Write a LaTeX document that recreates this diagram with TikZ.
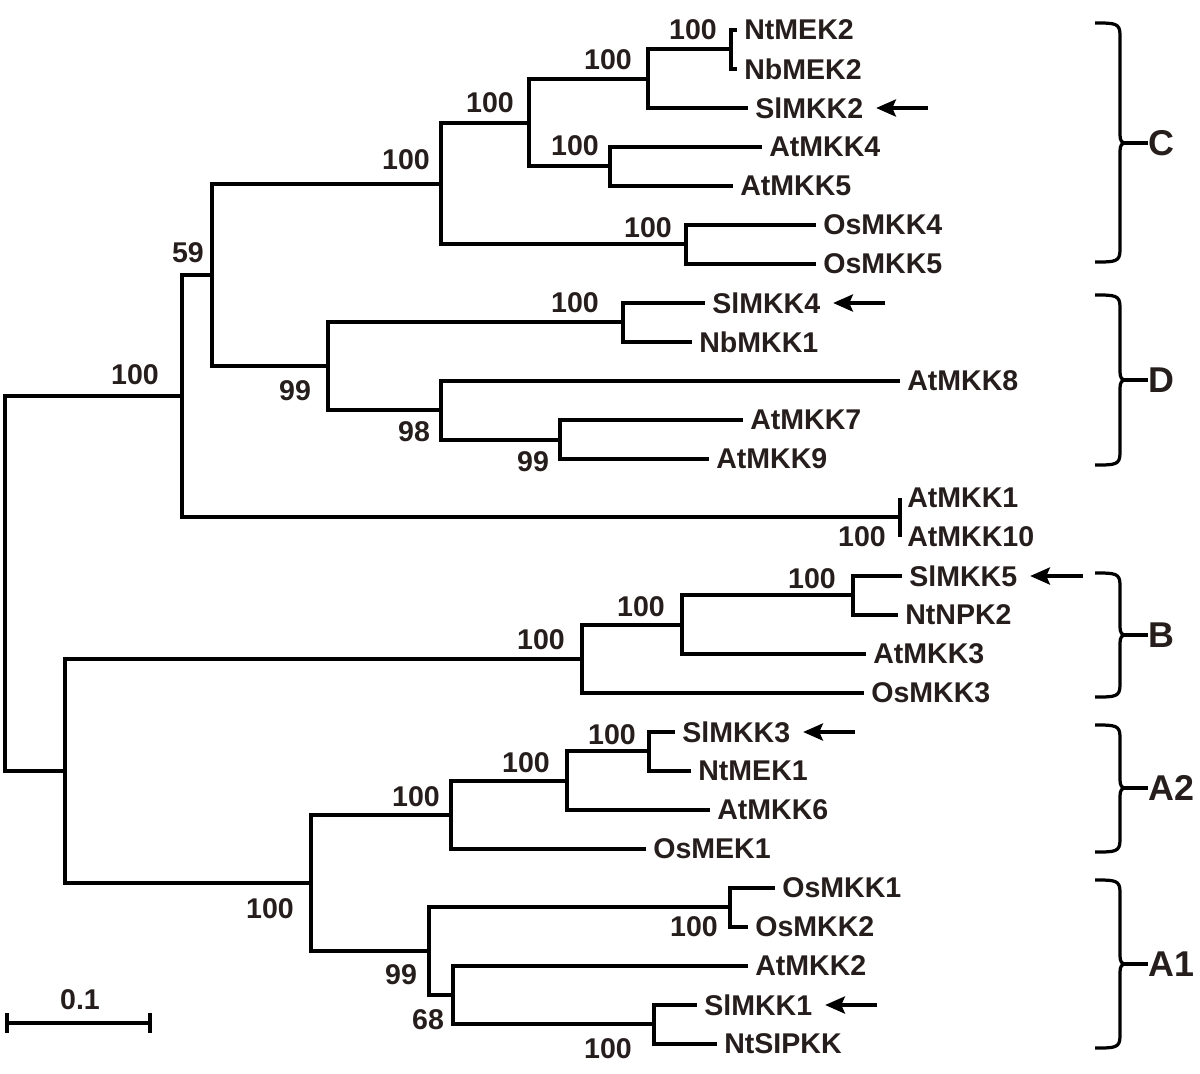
\documentclass[tikz,border=0pt]{standalone}
\usepackage{fontspec}
\setmainfont{Liberation Sans}
\usetikzlibrary{positioning, arrows.meta, calc}
\definecolor{ink}{RGB}{38,30,28}

\begin{document}
\begin{tikzpicture}[
  x=0.025cm, y=-0.025cm,
  every node/.style={font=\bfseries\fontsize{20.3}{22}\selectfont, text=ink},
  br/.style    = {line width=3pt, black},
  jn/.style    = {inner sep=0pt, minimum size=0pt},
  leaf/.style  = {anchor=west, inner xsep=5pt, inner ysep=0pt},
  bs/.style    = {inner sep=0pt},
  arr/.style   = {-{Stealth[length=14pt, width=12pt, inset=2.5pt]}, line width=2.8pt, black, shorten >=4pt},
  brk/.style   = {line width=2.3pt, black},
  clade/.style = {anchor=west, inner sep=0pt, font=\bfseries\fontsize{25.5}{28}\selectfont},
]
  \useasboundingbox (0,0) rectangle (1200,1073);
  % leaves: name / tip x / row
  \foreach \nm/\x/\i in {NtMEK2/737/0, NbMEK2/737/1, SlMKK2/748/2, AtMKK4/762/3, AtMKK5/733/4,
      OsMKK4/816/5, OsMKK5/816/6, SlMKK4/705/7, NbMKK1/692/8, AtMKK8/900/9, AtMKK7/743/10,
      AtMKK9/709/11, AtMKK1/900/12, AtMKK10/900/13, SlMKK5/902/14, NtNPK2/898/15,
      AtMKK3/866/16, OsMKK3/864/17, SlMKK3/675/18, NtMEK1/691/19, AtMKK6/710/20,
      OsMEK1/646/21, OsMKK1/775/22, OsMKK2/748/23, AtMKK2/748/24, SlMKK1/697/25, NtSIPKK/717/26}
    \node[leaf] (\nm) at (\x,30+39*\i) {\nm};
  % inner nodes
  \foreach \nm/\x/\y in {nNtNb/731/49, nSl2/648/79, nAt45/610/166, nC1/529/123,
      nOs45/686/244, nC/441/184, nD4/623/322, nD79/560/440, nD8/441/410,
      nD/328/366, nCD/212/275, nAt110/900/517, nUp/182/396, nSl5/853/595,
      nB3/682/625, nB/582/659, nSl3/649/751, nA26/567/781, nA2/451/815,
      nOs12/730/907, nSl1/654/1024, n68/453/995, n99/429/951, nA/311/883,
      nLow/65/771, nRoot/5/584}
    \node[jn] (\nm) at (\x,\y) {};
  % branches
  \foreach \p/\a/\b in {nNtNb/NtMEK2/NbMEK2, nSl2/nNtNb/SlMKK2, nAt45/AtMKK4/AtMKK5,
      nC1/nSl2/nAt45, nOs45/OsMKK4/OsMKK5, nC/nC1/nOs45, nD4/SlMKK4/NbMKK1,
      nD79/AtMKK7/AtMKK9, nD8/AtMKK8/nD79, nD/nD4/nD8, nCD/nC/nD, nAt110/AtMKK1/AtMKK10,
      nUp/nCD/nAt110, nSl5/SlMKK5/NtNPK2, nB3/nSl5/AtMKK3, nB/nB3/OsMKK3,
      nSl3/SlMKK3/NtMEK1, nA26/nSl3/AtMKK6, nA2/nA26/OsMEK1, nOs12/OsMKK1/OsMKK2,
      nSl1/SlMKK1/NtSIPKK, n68/AtMKK2/nSl1, n99/nOs12/n68, nA/nA2/n99,
      nLow/nB/nA, nRoot/nUp/nLow}
    \draw[br] (\a.west) -| (\p.center) |- (\b.west);
  % bootstrap values
  \foreach \nm/\x/\y/\v in {b1/693/30/100, b2/608/60/100, b3/490/103/100, b4/575/146/100,
      b5/406/160/100, b6/648/228/100, b7/188/253/59, b8/575/303/100, b9/295/391/99,
      b10/414/432/98, b11/533/462/99, b12/862/537/100, b13/135/375/100, b14/812/579/100,
      b15/641/607/100, b16/541/640/100, b17/612/735/100, b18/526/763/100, b19/416/797/100,
      b20/694/927/100, b21/608/1049/100, b22/401/975/99, b23/428/1020/68, b24/270/909/100}
    \node[bs] (\nm) at (\x,\y) {\v};
  % tomato genes
  \foreach \nm in {SlMKK2, SlMKK4, SlMKK5, SlMKK3, SlMKK1}{
    \coordinate (t\nm) at ($(\nm.east)+(58,0)$);
    \draw[arr] (t\nm) -- (\nm);
  }
  % groups
  \foreach \t/\m/\b/\lab in {23/143/262/C, 295/380/465/D, 573/635/697/B, 725/788/852/A2, 880/964/1048/A1}{
    \draw[brk] (1095,\t) .. controls (1115,\t) and (1120,\t) .. (1120,\t+12) -- (1120,\m-8)
      .. controls (1120,\m-2) and (1122,\m) .. (1126,\m)
      .. controls (1122,\m) and (1120,\m+2) .. (1120,\m+8) -- (1120,\b-12)
      .. controls (1120,\b) and (1115,\b) .. (1095,\b);
    \node[clade] (g\lab) at (1148,\m) {\lab};
    \draw[brk] (1124,\m) -- (g\lab.west);
  }
  % scale
  \coordinate (s0) at (5,1023);
  \coordinate (s1) at (152,1023);
  \draw[br, line width=2.6pt, {Bar[width=14pt]}-{Bar[width=14pt]}] (s0) -- (s1);
  \node[bs] (sl) at (80,1000) {0.1};
\end{tikzpicture}
\end{document}
